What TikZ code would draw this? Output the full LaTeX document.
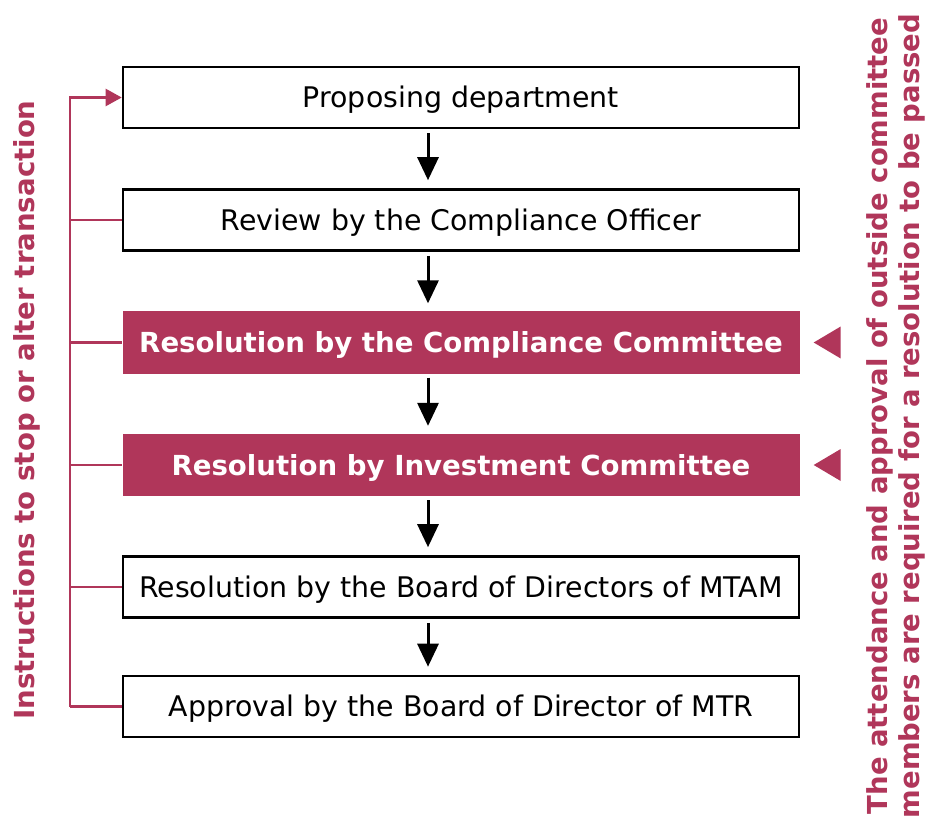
\documentclass[tikz,border=0pt]{standalone}
\usepackage{fontspec}
\setmainfont{DejaVu Sans}
\usetikzlibrary{arrows.meta}
\definecolor{crim}{HTML}{B0365A}
\begin{document}
\begin{tikzpicture}[x=1pt,y=-1pt,
  box/.style={draw=black,line width=2.6pt,minimum width=676pt,minimum height=61pt,inner sep=0pt,text height=24pt,text depth=3.6pt,font=\fontsize{28.4}{32}\selectfont},
  hbox/.style={fill=crim,draw=none,minimum width=677pt,minimum height=62pt,inner sep=0pt,text height=24pt,text depth=3.6pt,text=white,font=\bfseries\fontsize{27.6}{32}\selectfont},
  flow/.style={line width=3pt,shorten <=4pt,shorten >=8pt,-{Triangle[width=21pt,length=23pt]}},
  back/.style={draw=crim,line width=2.4pt},
  tri/.style={fill=crim,draw=none}]
\useasboundingbox (0,0) rectangle (929,818);
\node[box] (b1) at (461,97.5) {Proposing department};
\node[box] (b2) at (461,220) {Review by the Compliance Officer};
\node[hbox] (b3) at (461,342.5) {Resolution by the Compliance Committee};
\node[hbox] (b4) at (461,465) {Resolution by Investment Committee};
\node[box] (b5) at (461,587) {Resolution by the Board of Directors of MTAM};
\node[box] (b6) at (461,706.5) {Approval by the Board of Director of MTR};
\foreach \a/\b in {b1/b2,b2/b3,b3/b4,b4/b5,b5/b6}
  \draw[flow] ([xshift=-33pt]\a.south) -- ([xshift=-33pt]\b.north);
\coordinate (lt) at (70,97.5);
\coordinate (lb) at (70,706.5);
\draw[back,-{Triangle[width=17pt,length=16pt]}] (lb) -- (lt) -- (b1.west);
\draw[back] (lb) -- (b6.west);
\foreach \n in {b2,b3,b4,b5}
  \draw[back] (b1.west |- \n.west) -- (lt |- \n.west);
\node[rotate=90,text=crim,font=\bfseries\fontsize{27.6}{32}\selectfont] (lbl) at (27,410) {Instructions to stop or alter transaction};
\node[rotate=90,text=crim,font=\bfseries\fontsize{27.5}{32}\selectfont,align=center] (rlbl) at (896,416) {The attendance and approval of outside committee\\members are required for a resolution to be passed};
\foreach \n/\t in {b3/t1,b4/t2}
  \fill[tri] ([xshift=14pt]\n.east) -- ++(27,-16) -- ++(0,32) -- cycle;
\end{tikzpicture}
\end{document}
